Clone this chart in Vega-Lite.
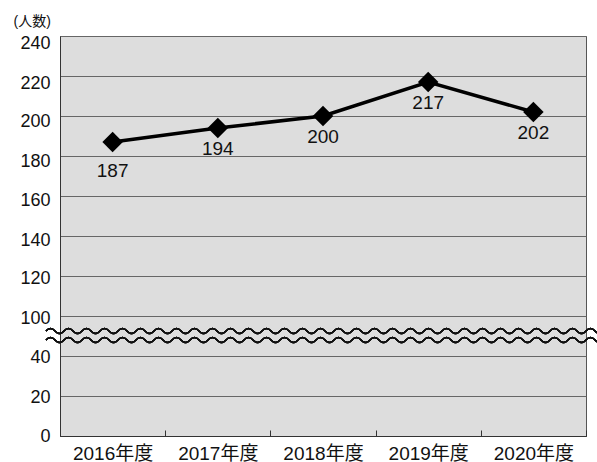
{
  "$schema": "https://vega.github.io/schema/vega-lite/v6.json",
  "width": 526,
  "height": 400,
  "autosize": {"type": "none"},
  "padding": {"left": 60, "top": 36, "right": 11, "bottom": 26},
  "background": "white",
  "config": {
    "view": {"fill": "#dddddd", "stroke": "#555555", "strokeWidth": 1},
    "font": "Liberation Sans, Noto Sans CJK JP, sans-serif"
  },
  "data": {
    "values": [
      {"year": "2016年度", "value": 187},
      {"year": "2017年度", "value": 194},
      {"year": "2018年度", "value": 200},
      {"year": "2019年度", "value": 217},
      {"year": "2020年度", "value": 202}
    ]
  },
  "encoding": {
    "x": {
      "field": "year",
      "type": "nominal",
      "sort": null,
      "scale": {"type": "band", "domain": ["2016年度", "2017年度", "2018年度", "2019年度", "2020年度"], "paddingInner": 0, "paddingOuter": 0},
      "axis": {
        "title": null,
        "labelAngle": 0,
        "tickBand": "extent",
        "tickSize": -6,
        "tickColor": "#333333",
        "domainColor": "#333333",
        "labelFontSize": 19,
        "labelPadding": 14,
        "labelColor": "#111111",
        "grid": false
      }
    },
    "y": {
      "field": "value",
      "type": "quantitative",
      "scale": {"domain": [0, 40, 100, 240], "range": [400, 320, 280, 0], "nice": false, "zero": false},
      "axis": {
        "values": [0, 20, 40, 100, 120, 140, 160, 180, 200, 220, 240],
        "grid": true,
        "gridColor": "#666666",
        "gridWidth": 1,
        "gridOpacity": 1,
        "ticks": false,
        "domainColor": "#333333",
        "labelFontSize": 18,
        "labelPadding": 10,
        "labelColor": "#111111",
        "labelOffset": {
          "condition": [
            {"test": "datum.value >= 220", "value": 7},
            {"test": "datum.value >= 180", "value": 5.5},
            {"test": "datum.value >= 140", "value": 4},
            {"test": "datum.value >= 100", "value": 2.5},
            {"test": "datum.value >= 20", "value": 1}
          ],
          "value": 0
        },
        "title": "(人数)",
        "titleAngle": 0,
        "titleAlign": "left",
        "titleBaseline": "alphabetic",
        "titleX": -47,
        "titleY": -11,
        "titleFontSize": 14,
        "titleFontWeight": "normal",
        "titleColor": "#111111"
      }
    }
  },
  "layer": [
    {
      "mark": {"type": "line", "color": "#000000", "strokeWidth": 3.5}
    },
    {
      "mark": {"type": "point", "shape": "diamond", "size": 420, "filled": true, "color": "#000000", "opacity": 1}
    },
    {
      "transform": [{"filter": "datum.value == 187"}],
      "mark": {"type": "text", "fontSize": 19, "baseline": "middle", "dy": 29, "color": "#111111"},
      "encoding": {"text": {"field": "value", "type": "quantitative"}}
    },
    {
      "transform": [{"filter": "datum.value != 187"}],
      "mark": {"type": "text", "fontSize": 19, "baseline": "middle", "dy": 21, "color": "#111111"},
      "encoding": {"text": {"field": "value", "type": "quantitative"}}
    },
    {
      "mark": {
        "type": "point",
        "shape": "M-277,0q4.5,-5 9,0q4.5,5 9,0q4.5,-5 9,0q4.5,5 9,0q4.5,-5 9,0q4.5,5 9,0q4.5,-5 9,0q4.5,5 9,0q4.5,-5 9,0q4.5,5 9,0q4.5,-5 9,0q4.5,5 9,0q4.5,-5 9,0q4.5,5 9,0q4.5,-5 9,0q4.5,5 9,0q4.5,-5 9,0q4.5,5 9,0q4.5,-5 9,0q4.5,5 9,0q4.5,-5 9,0q4.5,5 9,0q4.5,-5 9,0q4.5,5 9,0q4.5,-5 9,0q4.5,5 9,0q4.5,-5 9,0q4.5,5 9,0q4.5,-5 9,0q4.5,5 9,0q4.5,-5 9,0q4.5,5 9,0q4.5,-5 9,0q4.5,5 9,0q4.5,-5 9,0q4.5,5 9,0q4.5,-5 9,0q4.5,5 9,0q4.5,-5 9,0q4.5,5 9,0q4.5,-5 9,0q4.5,5 9,0q4.5,-5 9,0q4.5,5 9,0q4.5,-5 9,0q4.5,5 9,0q4.5,-5 9,0q4.5,5 9,0q4.5,-5 9,0q4.5,5 9,0q4.5,-5 9,0q4.5,5 9,0q4.5,-5 9,0q4.5,5 9,0q4.5,-5 9,0q4.5,5 9,0q4.5,-5 9,0q4.5,5 9,0q4.5,-5 9,0q4.5,5 9,0q4.5,-5 9,0q4.5,5 9,0",
        "size": 4,
        "filled": false,
        "color": "#111111",
        "strokeWidth": 1.5,
        "opacity": 1
      },
      "encoding": {"x": {"datum": "2018年度"}, "y": {"datum": 77.5}}
    },
    {
      "mark": {
        "type": "point",
        "shape": "M-277,0q4.5,-5 9,0q4.5,5 9,0q4.5,-5 9,0q4.5,5 9,0q4.5,-5 9,0q4.5,5 9,0q4.5,-5 9,0q4.5,5 9,0q4.5,-5 9,0q4.5,5 9,0q4.5,-5 9,0q4.5,5 9,0q4.5,-5 9,0q4.5,5 9,0q4.5,-5 9,0q4.5,5 9,0q4.5,-5 9,0q4.5,5 9,0q4.5,-5 9,0q4.5,5 9,0q4.5,-5 9,0q4.5,5 9,0q4.5,-5 9,0q4.5,5 9,0q4.5,-5 9,0q4.5,5 9,0q4.5,-5 9,0q4.5,5 9,0q4.5,-5 9,0q4.5,5 9,0q4.5,-5 9,0q4.5,5 9,0q4.5,-5 9,0q4.5,5 9,0q4.5,-5 9,0q4.5,5 9,0q4.5,-5 9,0q4.5,5 9,0q4.5,-5 9,0q4.5,5 9,0q4.5,-5 9,0q4.5,5 9,0q4.5,-5 9,0q4.5,5 9,0q4.5,-5 9,0q4.5,5 9,0q4.5,-5 9,0q4.5,5 9,0q4.5,-5 9,0q4.5,5 9,0q4.5,-5 9,0q4.5,5 9,0q4.5,-5 9,0q4.5,5 9,0q4.5,-5 9,0q4.5,5 9,0q4.5,-5 9,0q4.5,5 9,0q4.5,-5 9,0q4.5,5 9,0q4.5,-5 9,0q4.5,5 9,0",
        "size": 4,
        "filled": false,
        "color": "#111111",
        "strokeWidth": 1.5,
        "opacity": 1
      },
      "encoding": {"x": {"datum": "2018年度"}, "y": {"datum": 64}}
    }
  ]
}
